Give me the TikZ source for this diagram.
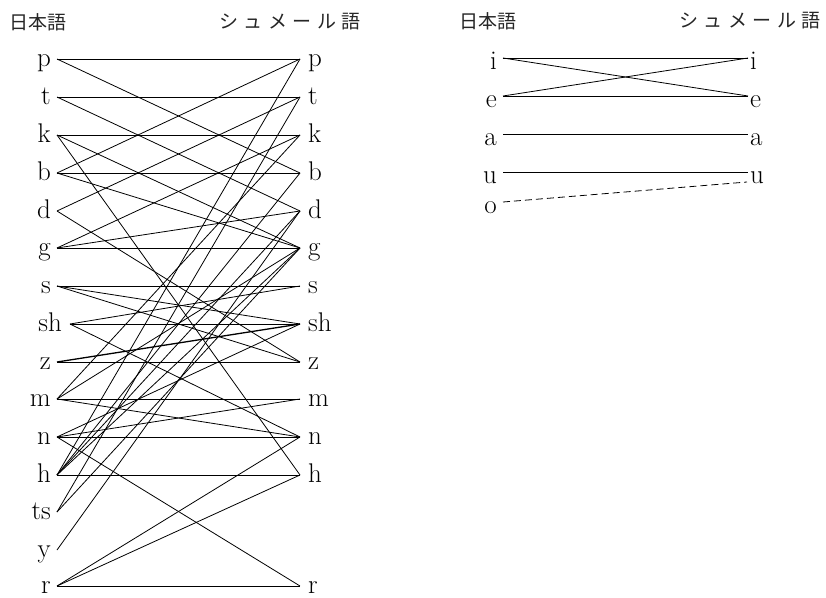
\documentclass[tikz,border=0pt]{standalone}
\usepackage{fontspec}
\newfontfamily\jpfont{Noto Sans CJK JP}
\newcommand{\kspace}{\hspace{5.5pt}}
\begin{document}
\begin{tikzpicture}[x=1pt,y=-1pt,
  con/.style={line width=0.8pt},
  lbl/.style={font=\fontsize{27}{27}\selectfont, inner ysep=0pt, text height=14pt, text depth=0pt},
  lft/.style={lbl, anchor=east, inner xsep=6pt},
  rgt/.style={lbl, anchor=west, inner xsep=8pt},
  vlbl/.style={font=\fontsize{27}{27}\selectfont, inner ysep=0pt, text height=22pt, text depth=0pt},
  vlft/.style={vlbl, anchor=east, inner xsep=6pt},
  vrgt/.style={vlbl, anchor=west, inner xsep=2pt},
  hdr/.style={font=\jpfont\fontsize{19}{19}\selectfont, text=black!85, inner sep=0pt, anchor=west},
]
\fill[white] (0,0) rectangle (826,597);
\useasboundingbox (0,0) rectangle (826,597);

% headers
\node[hdr] (h1) at (9,22) {日本語};
\node[hdr] (h2) at (219,22) {シ\kspace ュ\kspace メ\kspace ー\kspace ル\kspace 語};
\node[hdr] (h3) at (459,21) {日本語};
\node[hdr] (h4) at (679,21) {シ\kspace ュ\kspace メ\kspace ー\kspace ル\kspace 語};

% consonants: Japanese column
\foreach \n/\y in {p/59,t/97,k/135,b/173,d/211,g/248,s/286,z/362,m/399,n/437,h/475,ts/512,y/550,r/586}
  \node[lft] (L\n) at (57,\y) {\n};
\node[lft, inner xsep=8pt] (Lsh) at (70,324) {sh};

% consonants: Sumerian column
\foreach \n/\y in {p/59,t/97,k/135,b/173,d/211,g/248,s/286,sh/324,z/362,m/399,n/437,h/475,r/586}
  \node[rgt] (R\n) at (300,\y) {\n};

% correspondences
\foreach \a/\b in {p/p,p/b, t/t,t/d, k/k,k/g,k/h, b/p,b/b,b/g, d/t,d/z,
                   g/k,g/d,g/g, s/s,s/sh,s/z, sh/s,sh/sh,sh/n, z/z,
                   m/k,m/g,m/m,m/n, n/m,n/n,n/sh,n/r,
                   h/p,h/b,h/d,h/g,h/h, ts/t,ts/g, y/d, r/n,r/h,r/r}
  \draw[con] (L\a.east) -- (R\b.west);
\draw[line width=1.3pt] (Lz.east) -- (Rsh.west);

% vowels
\foreach \n/\y in {i/58,e/96,a/134,u/172}
  \node[vlft] (V\n) at (503,\y) {\n};
\node[vlft] (Vo) at (503,202) {o};
\foreach \n/\y in {i/58,e/96,a/134,u/172}
  \node[vrgt] (W\n) at (748,\y) {\n};
\coordinate (Wlow) at (747,182);

\foreach \a/\b in {i/i,i/e,e/i,e/e,a/a,u/u}
  \draw[con] (V\a.east) -- (W\b.west);
\draw[con, dash pattern=on 7pt off 4pt] (Vo.east) -- (Wlow);
\end{tikzpicture}
\end{document}
